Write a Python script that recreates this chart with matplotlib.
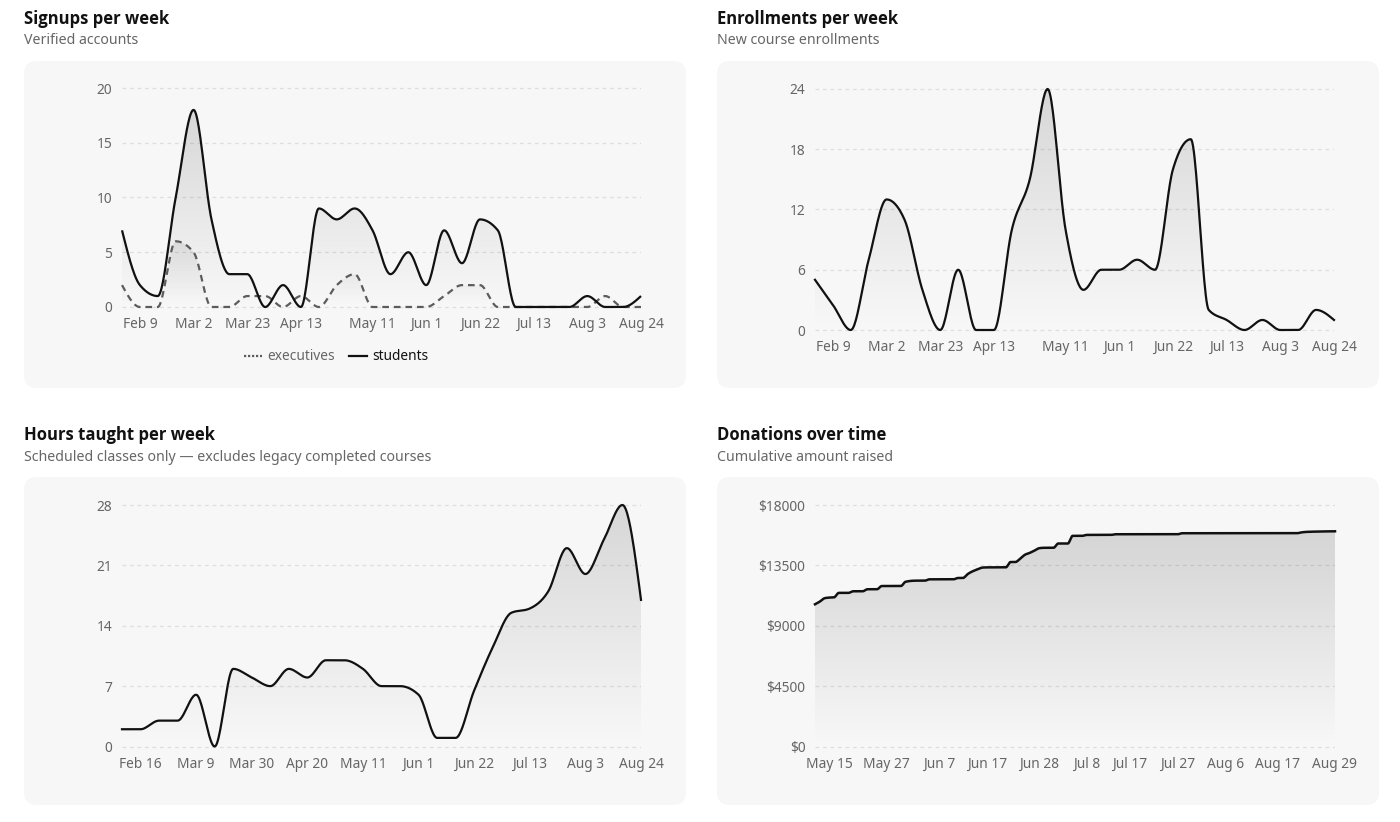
import matplotlib
matplotlib.use('Agg')
import matplotlib.pyplot as plt
import matplotlib.dates as mdates
from matplotlib.patches import FancyBboxPatch, Polygon
from matplotlib.lines import Line2D
import numpy as np
import pandas as pd

plt.rcParams['font.family'] = ['Noto Sans', 'DejaVu Sans']

# Data
signup_start, signup_end = '2025-02-02', '2025-08-24'
signup_students = [7, 2, 1, 10, 18, 8, 3, 3, 0, 2, 0, 9, 8, 9, 7, 3, 5, 2, 7, 4,
                   8, 7, 0, 0, 0, 0, 1, 0, 0, 1]
signup_executives = [2, 0, 0, 6, 5, 0, 0, 1, 1, 0, 1, 0, 2, 3, 0, 0, 0, 0, 1, 2,
                     2, 0, 0, 0, 0, 0, 0, 1, 0, 0]
signup_ticks = ['Feb 9', 'Mar 2', 'Mar 23', 'Apr 13', 'May 11', 'Jun 1',
                'Jun 22', 'Jul 13', 'Aug 3', 'Aug 24']

enroll_start, enroll_end = '2025-02-02', '2025-08-24'
enroll_counts = [5, 2.5, 0, 7, 13, 11, 4, 0, 6, 0, 0, 10, 15, 24, 10, 4, 6, 6, 7, 6,
                 16, 19, 2, 1, 0, 1, 0, 0, 2, 1]
enroll_ticks = signup_ticks

hours_start, hours_end = '2025-02-09', '2025-08-24'
hours_taught = [2, 2, 3, 3, 6, 0, 9, 8, 7, 9, 8, 10, 10, 9, 7, 7, 6, 1, 1, 6.5,
                11.5, 15.5, 16, 18, 23, 20, 24, 28, 17]
hours_ticks = ['Feb 16', 'Mar 9', 'Mar 30', 'Apr 20', 'May 11', 'Jun 1',
               'Jun 22', 'Jul 13', 'Aug 3', 'Aug 24']

donation_dates = ['May 12', 'May 13', 'May 14', 'May 15', 'May 16', 'May 17', 'May 19',
                  'May 20', 'May 22', 'May 23', 'May 25', 'May 26', 'May 30', 'May 31',
                  'Jun 2', 'Jun 4', 'Jun 5', 'Jun 10', 'Jun 11', 'Jun 12', 'Jun 13',
                  'Jun 15', 'Jun 16', 'Jun 17', 'Jun 21', 'Jun 22', 'Jun 23', 'Jun 24',
                  'Jun 25', 'Jun 26', 'Jun 27', 'Jun 28', 'Jun 29', 'Jul 1', 'Jul 2',
                  'Jul 4', 'Jul 5', 'Jul 7', 'Jul 8', 'Jul 13', 'Jul 14', 'Jul 27',
                  'Jul 28', 'Aug 21', 'Aug 22', 'Aug 23', 'Aug 29']
donation_totals = [10600, 10800, 11050, 11100, 11120, 11450, 11450,
                   11570, 11570, 11720, 11720, 11960, 11960, 12280,
                   12360, 12360, 12460, 12460, 12560, 12560, 12850,
                   13200, 13330, 13350, 13350, 13750, 13750, 14000,
                   14290, 14430, 14600, 14780, 14810, 14810, 15130,
                   15130, 15700, 15700, 15770, 15770, 15820, 15820,
                   15895, 15895, 15960, 15995, 16040]
donation_ticks = ['May 15', 'May 27', 'Jun 7', 'Jun 17', 'Jun 28', 'Jul 8',
                  'Jul 17', 'Jul 27', 'Aug 6', 'Aug 17', 'Aug 29']

CARD = '#f7f7f7'
GRID = '#dedede'
TICK = '#666666'
INK = '#111111'
W, H = 1400, 822
FS = 9.9


def to_num(labels):
    return mdates.date2num(pd.to_datetime([f'{s} 2025' for s in labels], format='%b %d %Y'))


def monotone(x, y, n=24):
    # d3 curveMonotoneX style cubic hermite
    x = np.asarray(x, float)
    y = np.asarray(y, float)
    h = np.diff(x)
    s = np.diff(y) / h
    m = np.zeros_like(y)
    for i in range(1, len(y) - 1):
        p = (s[i - 1] * h[i] + s[i] * h[i - 1]) / (h[i - 1] + h[i])
        sg = (1 if s[i - 1] >= 0 else -1) + (1 if s[i] >= 0 else -1)
        m[i] = sg * min(abs(s[i - 1]), abs(s[i]), 0.5 * abs(p))
    m[0] = (3 * s[0] - m[1]) / 2
    m[-1] = (3 * s[-1] - m[-2]) / 2
    xs, ys = [], []
    t = np.linspace(0, 1, n, endpoint=False)
    for i in range(len(h)):
        h00 = 2 * t**3 - 3 * t**2 + 1
        h10 = t**3 - 2 * t**2 + t
        h01 = -2 * t**3 + 3 * t**2
        h11 = t**3 - t**2
        xs.append(x[i] + t * h[i])
        ys.append(h00 * y[i] + h10 * h[i] * m[i] + h01 * y[i + 1] + h11 * h[i] * m[i + 1])
    xs.append([x[-1]])
    ys.append([y[-1]])
    return np.concatenate(xs), np.concatenate(ys)


def gradient_area(ax, xs, ys, top_alpha=0.13):
    ymax = ys.max()
    poly = np.column_stack([np.r_[xs[0], xs, xs[-1]], np.r_[0, ys, 0]])
    patch = Polygon(poly, closed=True, facecolor='none', edgecolor='none')
    ax.add_patch(patch)
    rgba = np.zeros((256, 1, 4))
    rgba[:, 0, 3] = np.linspace(top_alpha, 0.0, 256)
    im = ax.imshow(rgba, extent=[xs[0], xs[-1], 0, ymax], aspect='auto',
                   origin='upper', zorder=1, interpolation='bilinear')
    im.set_clip_path(patch)


def card(fig, x0, y0, x1, y1):
    box = FancyBboxPatch(((x0) / 100, (H - y1) / 100), (x1 - x0) / 100, (y1 - y0) / 100,
                         boxstyle='round,pad=0,rounding_size=0.13',
                         transform=fig.dpi_scale_trans, facecolor=CARD,
                         edgecolor='none', zorder=-10)
    fig.patches.append(box)


def header(fig, x, y, title, sub):
    fig.text(x / W, 1 - y / H, title, fontsize=12, fontweight='bold',
             family=['Open Sans', 'DejaVu Sans'], color=INK, va='center', ha='left')
    fig.text(x / W, 1 - (y + 22) / H, sub, fontsize=10.2, color='#666666',
             va='center', ha='left')


def panel(fig, x0, x1, v_lo, p_lo, v_hi, p_hi, xmin, xmax, yticks, ylabels,
          xticks, xlabels):
    top, bot = p_hi - 10, p_lo + 4
    ax = fig.add_axes([x0 / W, 1 - bot / H, (x1 - x0) / W, (bot - top) / H])
    upp = (v_hi - v_lo) / (p_lo - p_hi)
    ax.set_facecolor('none')
    for sp in ax.spines.values():
        sp.set_visible(False)
    ax.set_yticks(yticks)
    ax.set_yticklabels(ylabels)
    ax.set_xticks(xticks)
    ax.set_xticklabels(xlabels)
    ax.tick_params(length=0, labelsize=FS, colors=TICK)
    ax.tick_params(axis='y', pad=7)
    ax.tick_params(axis='x', pad=4.5)
    ax.grid(axis='y', color=GRID, linestyle=(0, (3, 3)), linewidth=0.9)
    ax.set_axisbelow(True)
    ax._lims = (xmin, xmax, v_lo - (bot - p_lo) * upp, v_hi + (p_hi - top) * upp)
    return ax


def finish(ax):
    xmin, xmax, y0, y1 = ax._lims
    ax.set_xlim(xmin, xmax)
    ax.set_ylim(y0, y1)


fig = plt.figure(figsize=(W / 100, H / 100), dpi=100)
fig.patch.set_facecolor('white')

card(fig, 24, 61, 686, 388)
card(fig, 717, 61, 1379, 388)
card(fig, 24, 477, 686, 805)
card(fig, 717, 477, 1379, 805)

header(fig, 24, 19, 'Signups per week', 'Verified accounts')
header(fig, 717, 19, 'Enrollments per week', 'New course enrollments')
header(fig, 24, 435, 'Hours taught per week',
       'Scheduled classes only \u2014 excludes legacy completed courses')
header(fig, 717, 435, 'Donations over time', 'Cumulative amount raised')

# Signups
wk = mdates.date2num(pd.date_range(signup_start, signup_end, freq='7D'))
ax1 = panel(fig, 122, 641, 0, 307, 20, 88, wk[0], wk[-1], [0, 5, 10, 15, 20],
            ['0', '5', '10', '15', '20'], to_num(signup_ticks), signup_ticks)
xs, ys = monotone(wk, signup_students)
gradient_area(ax1, xs, ys)
ax1.plot(xs, ys, color=INK, lw=1.6, zorder=4, clip_on=False, solid_capstyle='butt')
xe, ye = monotone(wk, signup_executives)
gradient_area(ax1, xe, ye, top_alpha=0.08)
ax1.plot(xe, ye, color='#5c5c5c', lw=1.6, linestyle=(0, (3, 2.2)), zorder=3, clip_on=False)
finish(ax1)
handles = [Line2D([], [], color='#5c5c5c', lw=1.6, linestyle=(0, (1, 0.8))),
           Line2D([], [], color=INK, lw=1.6)]
leg = fig.legend(handles, ['executives', 'students'], loc='center',
                 bbox_to_anchor=(336 / W, 1 - 357 / H), ncol=2, frameon=False,
                 fontsize=FS, handlelength=1.3, handletextpad=0.4, columnspacing=1.0)
leg.get_texts()[0].set_color('#666666')
leg.get_texts()[1].set_color(INK)

# Enrollments
wk2 = mdates.date2num(pd.date_range(enroll_start, enroll_end, freq='7D'))
ax2 = panel(fig, 815, 1334, 0, 330, 24, 89, wk2[0], wk2[-1], [0, 6, 12, 18, 24],
            ['0', '6', '12', '18', '24'], to_num(enroll_ticks), enroll_ticks)
xs, ys = monotone(wk2, enroll_counts)
gradient_area(ax2, xs, ys)
ax2.plot(xs, ys, color=INK, lw=1.6, zorder=4, clip_on=False)
finish(ax2)

# Hours
wk3 = mdates.date2num(pd.date_range(hours_start, hours_end, freq='7D'))
ax3 = panel(fig, 122, 641, 0, 746.5, 28, 505, wk3[0], wk3[-1], [0, 7, 14, 21, 28],
            ['0', '7', '14', '21', '28'], to_num(hours_ticks), hours_ticks)
xs, ys = monotone(wk3, hours_taught)
gradient_area(ax3, xs, ys)
ax3.plot(xs, ys, color=INK, lw=1.6, zorder=4, clip_on=False)
finish(ax3)

# Donations
dd = to_num(donation_dates)
ax4 = panel(fig, 815, 1335, 0, 746.5, 18000, 505, dd[0], dd[-1],
            [0, 4500, 9000, 13500, 18000], ['$0', '$4500', '$9000', '$13500', '$18000'],
            to_num(donation_ticks), donation_ticks)
xs, ys = monotone(dd, donation_totals, n=12)
gradient_area(ax4, xs, ys, top_alpha=0.14)
ax4.plot(xs, ys, color=INK, lw=1.8, zorder=4, clip_on=False)
finish(ax4)

fig.savefig('out.png', dpi=100, facecolor='white')
